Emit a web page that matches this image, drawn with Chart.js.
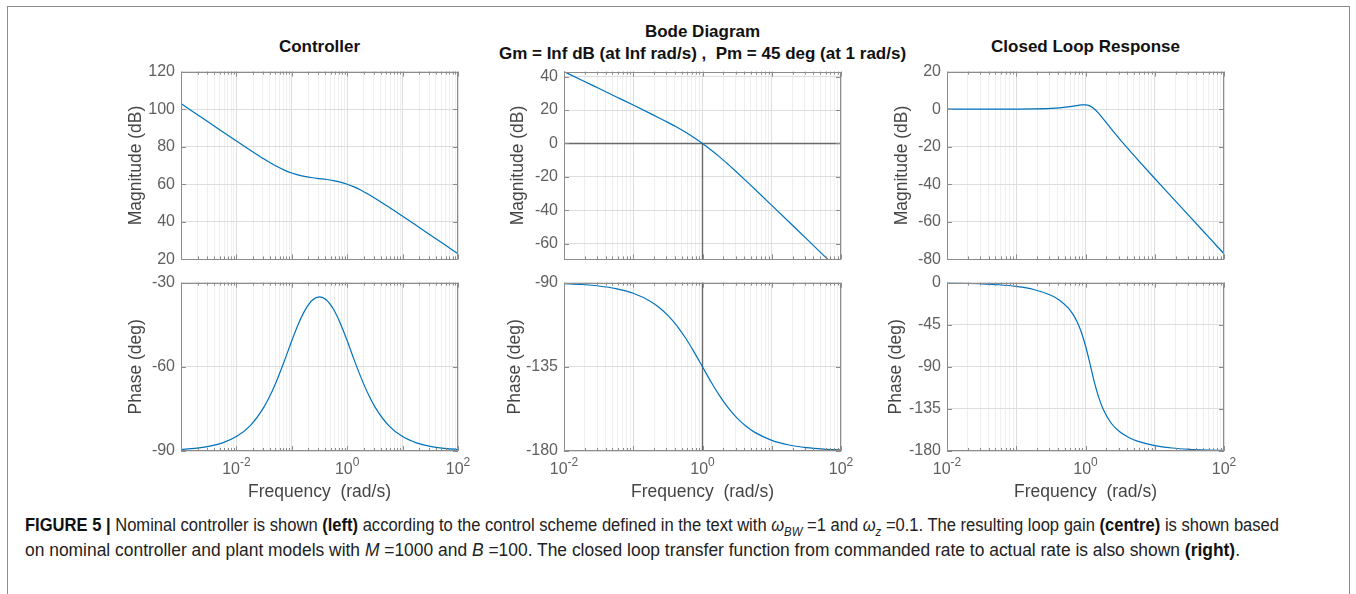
<!DOCTYPE html>
<html>
<head>
<meta charset="utf-8">
<script src="https://cdn.jsdelivr.net/npm/chart.js@4.4.1/dist/chart.umd.min.js"></script>
<style>
  html, body { margin: 0; padding: 0; background: #fff; }
  #fig { position: relative; width: 1356px; height: 594px; overflow: hidden; font-family: "Liberation Sans", Arial, Helvetica, sans-serif; }
  .frame { position: absolute; left: 7px; top: 6px; width: 1343px; height: 700px; border: 1px solid #8c8c8c; box-sizing: border-box; }
  .panel { position: absolute; }
  .ttl { position: absolute; transform: translate(-50%, -50%); font-weight: bold; font-size: 17px; color: #111; white-space: nowrap; }
  .cap { position: absolute; left: 25px; white-space: nowrap; font-size: 17.5px; color: #222; transform-origin: 0 50%; line-height: 20px; }
  .cap b { color: #111; }
  .cap sub { font-size: 12px; }
</style>
</head>
<body>
<div id="fig">
  <div class="frame"></div>
  <div class="ttl" style="left:319.5px; top:46.5px;">Controller</div>
  <div class="ttl" style="left:702.5px; top:31.5px;">Bode Diagram</div>
  <div class="ttl" style="left:702.5px; top:54px;">Gm = Inf dB (at Inf rad/s) ,&nbsp; Pm = 45 deg (at 1 rad/s)</div>
  <div class="ttl" style="left:1085.5px; top:46.5px;">Closed Loop Response</div>
  <div class="cap" id="cap1" style="top:515px;"><b>FIGURE 5 |</b> Nominal controller is shown <b>(left)</b> according to the control scheme defined in the text with <i>ω</i><sub><i>BW</i></sub> =1 and <i>ω</i><sub><i>z</i></sub> =0.1. The resulting loop gain <b>(centre)</b> is shown based</div>
  <div class="cap" id="cap2" style="top:540px;">on nominal controller and plant models with <i>M</i> =1000 and <i>B</i> =100. The closed loop transfer function from commanded rate to actual rate is also shown <b>(right)</b>.</div>
</div>
<script>
// Controller (left), frequency in rad/s
const ctrlFreq  = [0.001, 0.00178, 0.00316, 0.00562, 0.01, 0.0178, 0.0316, 0.0422, 0.0562, 0.075, 0.1, 0.133, 0.178, 0.237, 0.316, 0.422, 0.562, 0.75, 1, 1.33, 1.78, 2.37, 3.16, 5.62, 10, 17.8, 31.6, 56.2, 100];
const ctrlMag   = [103.01, 98.01, 93.01, 88.02, 83.05, 78.15, 73.42, 71.21, 69.19, 67.42, 65.98, 64.87, 64.07, 63.48, 63.01, 62.54, 61.95, 61.15, 60.04, 58.60, 56.83, 54.81, 52.60, 47.88, 42.97, 38.00, 33.01, 28.01, 23.01];
const ctrlPhase = [-89.48, -89.08, -88.37, -87.10, -84.86, -80.94, -74.26, -69.55, -63.87, -57.43, -50.71, -44.46, -39.44, -36.21, -35.10, -36.21, -39.43, -44.47, -50.71, -57.43, -63.86, -69.55, -74.26, -80.94, -84.86, -87.10, -88.37, -89.08, -89.49];

// Loop gain (centre)
const loopFreq  = [0.01, 0.0178, 0.0316, 0.0562, 0.1, 0.178, 0.237, 0.316, 0.422, 0.562, 0.75, 1, 1.33, 1.78, 2.37, 3.16, 4.22, 5.62, 10, 17.8, 31.6, 56.2, 100];
const loopMag   = [43.01, 38.01, 33.01, 27.99, 22.97, 17.87, 15.27, 12.60, 9.80, 6.82, 3.57, 0.00, -3.93, -8.18, -12.70, -17.40, -22.23, -27.13, -37.03, -47.00, -56.99, -66.99, -76.99];
const loopPhase = [-90.57, -91.02, -91.81, -93.22, -95.71, -100.08, -103.34, -107.55, -112.87, -119.35, -126.87, -135.00, -143.13, -150.65, -157.13, -162.45, -166.66, -169.92, -174.29, -176.78, -178.19, -178.98, -179.43];
const crossFreq = 1;      // gain crossover marker
const zeroDb = 0;
const phaseFloor = -180;

// Closed loop (right)
const clFreq  = [0.01, 0.0178, 0.0316, 0.0562, 0.1, 0.178, 0.316, 0.422, 0.562, 0.649, 0.75, 0.866, 1, 1.155, 1.33, 1.54, 1.78, 2.37, 3.16, 4.22, 5.62, 10, 17.8, 31.6, 56.2, 100];
const clMag   = [0.00, 0.00, 0.00, 0.01, 0.04, 0.13, 0.39, 0.69, 1.19, 1.53, 1.91, 2.25, 2.32, 1.74, 0.20, -2.16, -4.93, -10.67, -16.22, -21.55, -26.74, -36.91, -46.96, -56.98, -66.99, -76.99];
const clPhase = [-0.41, -0.72, -1.28, -2.28, -4.07, -7.33, -13.53, -18.83, -27.12, -33.20, -41.36, -52.51, -67.50, -86.00, -105.27, -121.86, -134.51, -150.60, -159.78, -165.55, -169.46, -174.21, -176.77, -178.19, -178.98, -179.43];

// Axis ranges and tick labels
const ctrlMagTicks = [20, 40, 60, 80, 100, 120];
const ctrlPhaseTicks = [-90, -60, -30];
const loopMagTicks = [-60, -40, -20, 0, 20, 40];
const loopPhaseTicks = [-180, -135, -90];
const clMagTicks = [-80, -60, -40, -20, 0, 20];
const clPhaseTicks = [-180, -135, -90, -45, 0];
const ctrlExps = [-2, 0, 2];
const loopExps = [-2, 0, 2];
const clExps = [-2, 0, 2];

const FONT = '"Liberation Sans", Arial, Helvetica, sans-serif';
const BLUE = '#0072bd';
const TICK = '#606060';
const LABEL = '#454545';
const BOX = '#8c8c8c';
const GRID = '#dedede';
const MINOR = '#efefef';
const MARK = '#6a6a6a';

const fig = document.getElementById('fig');

const isDecade = v => Math.abs(Math.log10(v) - Math.round(Math.log10(v))) < 1e-6;

function logGrid(min, max) {
  const out = [];
  for (let k = Math.floor(Math.log10(min)); k <= Math.ceil(Math.log10(max)); k++) {
    for (let m = 1; m <= 9; m++) {
      const v = m * Number('1e' + k);
      if (v >= min * 0.999999 && v <= max * 1.000001) out.push(v);
    }
  }
  return out;
}

const pts = (xs, ys) => xs.map((x, i) => ({ x: x, y: ys[i] }));

// MATLAB style box, inward ticks and 10^k labels
const boxPlugin = {
  id: 'matlabBox',
  afterDraw(chart, args, opts) {
    const { ctx, chartArea: a, scales } = chart;
    ctx.save();
    ctx.strokeStyle = BOX;
    ctx.lineWidth = 1;
    ctx.beginPath();
    scales.x.ticks.forEach(t => {
      const px = Math.round(scales.x.getPixelForValue(t.value)) + 0.5;
      const len = isDecade(t.value) ? 5 : 3;
      ctx.moveTo(px, a.bottom); ctx.lineTo(px, a.bottom - len);
      ctx.moveTo(px, a.top); ctx.lineTo(px, a.top + len);
    });
    scales.y.ticks.forEach(t => {
      const py = Math.round(scales.y.getPixelForValue(t.value)) + 0.5;
      ctx.moveTo(a.left, py); ctx.lineTo(a.left + 5, py);
      ctx.moveTo(a.right, py); ctx.lineTo(a.right - 5, py);
    });
    ctx.stroke();
    ctx.strokeRect(Math.round(a.left) + 0.5, Math.round(a.top) + 0.5, Math.round(a.right - a.left) - 1, Math.round(a.bottom - a.top) - 1);

    if (opts.exps) {
      ctx.fillStyle = TICK;
      ctx.textBaseline = 'middle';
      ctx.textAlign = 'left';
      opts.exps.forEach(e => {
        const px = scales.x.getPixelForValue(Number('1e' + e));
        ctx.font = '16px ' + FONT;
        const w1 = ctx.measureText('10').width;
        ctx.font = '12px ' + FONT;
        const sup = String(e);
        const w2 = ctx.measureText(sup).width;
        const x0 = px - (w1 + w2) / 2;
        ctx.font = '16px ' + FONT;
        ctx.fillText('10', x0, a.bottom + 19);
        ctx.font = '12px ' + FONT;
        ctx.fillText(sup, x0 + w1, a.bottom + 12);
      });
    }
    ctx.restore();
  }
};

function bodePanel(p) {
  const plotW = 277, padT = 12, padR = 14;
  const axisH = p.exps ? 52 : 0;
  const w = p.yW + plotW + padR;
  const h = padT + p.plotH + (p.exps ? axisH : 12);
  const wrap = document.createElement('div');
  wrap.className = 'panel';
  wrap.style.left = (p.plotLeft - p.yW) + 'px';
  wrap.style.top = (p.plotTop - padT) + 'px';
  const cv = document.createElement('canvas');
  cv.width = w; cv.height = h;
  cv.style.width = w + 'px'; cv.style.height = h + 'px';
  wrap.appendChild(cv);
  fig.appendChild(wrap);

  const grid = logGrid(p.xMin, p.xMax);
  const datasets = [{
    data: pts(p.freq, p.vals),
    borderColor: BLUE, borderWidth: 1.2, pointRadius: 0, fill: false,
    cubicInterpolationMode: 'monotone'
  }];
  (p.refs || []).forEach(r => datasets.push({
    data: pts(r.x, r.y), borderColor: MARK, borderWidth: 1.4, pointRadius: 0, fill: false
  }));

  new Chart(cv, {
    type: 'line',
    data: { datasets: datasets },
    plugins: [boxPlugin],
    options: {
      responsive: false,
      animation: false,
      events: [],
      layout: { padding: { left: 0, top: padT, right: padR, bottom: p.exps ? 0 : 12 } },
      plugins: { legend: { display: false }, tooltip: { enabled: false }, matlabBox: { exps: p.exps } },
      scales: {
        x: {
          type: 'logarithmic', min: p.xMin, max: p.xMax,
          afterBuildTicks: s => { s.ticks = grid.map(v => ({ value: v })); },
          afterFit: s => { s.height = axisH; },
          ticks: { display: false },
          grid: { color: c => (c.tick && isDecade(c.tick.value)) ? GRID : MINOR, drawTicks: false, lineWidth: 1 },
          border: { display: false },
          title: {
            display: !!p.exps, text: 'Frequency  (rad/s)', color: LABEL,
            font: { family: FONT, size: 17.5 }, padding: 0
          }
        },
        y: {
          type: 'linear', min: p.yMin, max: p.yMax,
          afterBuildTicks: s => { s.ticks = p.yTicks.map(v => ({ value: v })); },
          afterFit: s => { s.width = p.yW; },
          ticks: { color: TICK, font: { family: FONT, size: 16 }, padding: 6, callback: v => String(v) },
          grid: { color: GRID, drawTicks: false, lineWidth: 1 },
          border: { display: false },
          title: { display: true, text: p.yLabel, color: LABEL, font: { family: FONT, size: 17.5 }, padding: 0 }
        }
      }
    }
  });
}

// left column
bodePanel({ plotLeft: 181, plotTop: 68, plotH: 195, yW: 55, xMin: 0.001, xMax: 100,
  yMin: 20, yMax: 120, yTicks: ctrlMagTicks, yLabel: 'Magnitude (dB)', freq: ctrlFreq, vals: ctrlMag });
bodePanel({ plotLeft: 181, plotTop: 279, plotH: 172, yW: 55, xMin: 0.001, xMax: 100,
  yMin: -90, yMax: -30, yTicks: ctrlPhaseTicks, yLabel: 'Phase (deg)', freq: ctrlFreq, vals: ctrlPhase, exps: ctrlExps });

// centre column
bodePanel({ plotLeft: 564, plotTop: 68, plotH: 195, yW: 56, xMin: 0.01, xMax: 100,
  yMin: -69.4, yMax: 43, yTicks: loopMagTicks, yLabel: 'Magnitude (dB)', freq: loopFreq, vals: loopMag,
  refs: [{ x: [0.01, 100], y: [zeroDb, zeroDb] }, { x: [crossFreq, crossFreq], y: [-69.4, zeroDb] }] });
bodePanel({ plotLeft: 564, plotTop: 279, plotH: 172, yW: 59, xMin: 0.01, xMax: 100,
  yMin: -180, yMax: -90, yTicks: loopPhaseTicks, yLabel: 'Phase (deg)', freq: loopFreq, vals: loopPhase, exps: loopExps,
  refs: [{ x: [0.01, 100], y: [phaseFloor, phaseFloor] }, { x: [crossFreq, crossFreq], y: [phaseFloor, -90] }] });

// right column
bodePanel({ plotLeft: 947, plotTop: 68, plotH: 195, yW: 55, xMin: 0.01, xMax: 100,
  yMin: -80, yMax: 20, yTicks: clMagTicks, yLabel: 'Magnitude (dB)', freq: clFreq, vals: clMag });
bodePanel({ plotLeft: 947, plotTop: 279, plotH: 172, yW: 61, xMin: 0.01, xMax: 100,
  yMin: -180, yMax: 0, yTicks: clPhaseTicks, yLabel: 'Phase (deg)', freq: clFreq, vals: clPhase, exps: clExps });

// caption: condensed like the original typeface
function fitLine(id, target) {
  const el = document.getElementById(id);
  const w = el.getBoundingClientRect().width;
  el.style.transform = 'scaleX(' + (target / w) + ')';
}
fitLine('cap1', 1254);
fitLine('cap2', 1215);
</script>
</body>
</html>
